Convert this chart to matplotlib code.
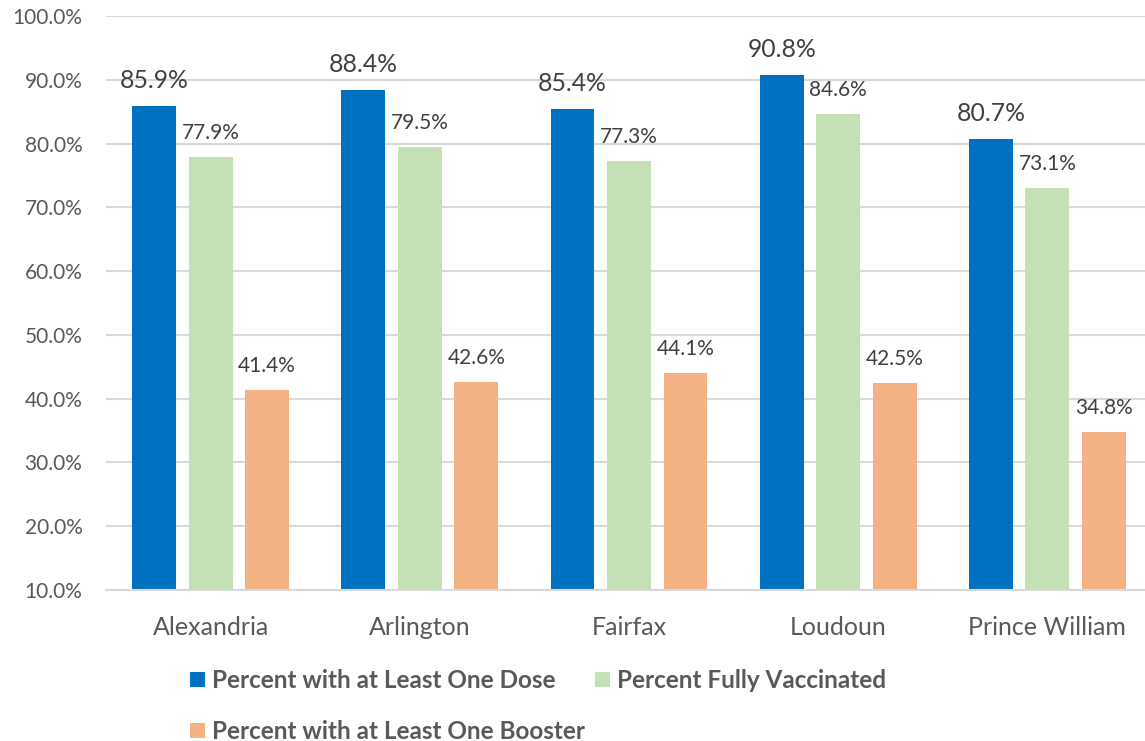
import numpy as np
import matplotlib.pyplot as plt
from matplotlib.ticker import FuncFormatter

plt.rcParams['font.family'] = ['Lato', 'DejaVu Sans']

# Data
counties = ['Alexandria', 'Arlington', 'Fairfax', 'Loudoun', 'Prince William']
one_dose = [85.9, 88.4, 85.4, 90.8, 80.7]
fully_vacc = [77.9, 79.5, 77.3, 84.6, 73.1]
booster = [41.4, 42.6, 44.1, 42.5, 34.8]

series_names = ['Percent with at Least One Dose', 'Percent Fully Vaccinated',
                'Percent with at Least One Booster']
colors = ['#0070C0', '#C5E0B4', '#F4B183']

tick_col = '#595959'
lbl_col = '#404040'
grid_col = '#D9D9D9'

fig = plt.figure(figsize=(11.45, 7.41), dpi=100)
ax = fig.add_axes([106 / 1145, 1 - 590 / 741, 1046 / 1145, (590 - 16) / 741])

x = np.arange(len(counties))
bar_width = 0.21
step = 0.27

bars = []
for i, (vals, col) in enumerate(zip([one_dose, fully_vacc, booster], colors)):
    b = ax.bar(x + (i - 1) * step, vals, width=bar_width, color=col,
               label=series_names[i], zorder=3)
    bars.append(b)
    fs = 17.8 if i == 0 else 15
    ax.bar_label(b, labels=['%.1f%%' % v for v in vals], padding=10,
                 fontsize=fs, color=lbl_col)

ax.set_ylim(10, 100)
ax.set_xlim(-0.5, len(counties) - 0.5)
ax.set_yticks(np.arange(10, 101, 10))
ax.yaxis.set_major_formatter(FuncFormatter(lambda v, p: '%.1f%%' % v))
ax.set_xticks(x)
ax.set_xticklabels(counties)
ax.tick_params(axis='y', length=0, pad=17, labelsize=15, labelcolor=tick_col)
ax.tick_params(axis='x', length=0, pad=19, labelsize=18, labelcolor=tick_col)

ax.grid(axis='y', color=grid_col, linewidth=1.5, zorder=0)
for s in ['top', 'right', 'left']:
    ax.spines[s].set_visible(False)
ax.spines['bottom'].set_color(grid_col)
ax.spines['bottom'].set_linewidth(1.5)
ax.spines['bottom'].set_zorder(4)

# legend: row1 = dose, fully; row2 = booster
handles = [bars[0], bars[2], bars[1]]
labels = [series_names[0], series_names[2], series_names[1]]
leg = fig.legend(handles, labels, loc='upper left',
                 bbox_to_anchor=(190 / 1145, 1 - 669 / 741), ncol=2,
                 frameon=False, prop={'weight': 'bold', 'size': 17.5},
                 handlelength=0.62, handleheight=0.62, handletextpad=0.3,
                 columnspacing=0.4, labelspacing=1.15, borderaxespad=0,
                 borderpad=0)
for t in leg.get_texts():
    t.set_color(tick_col)

plt.savefig('out.png', dpi=100)
